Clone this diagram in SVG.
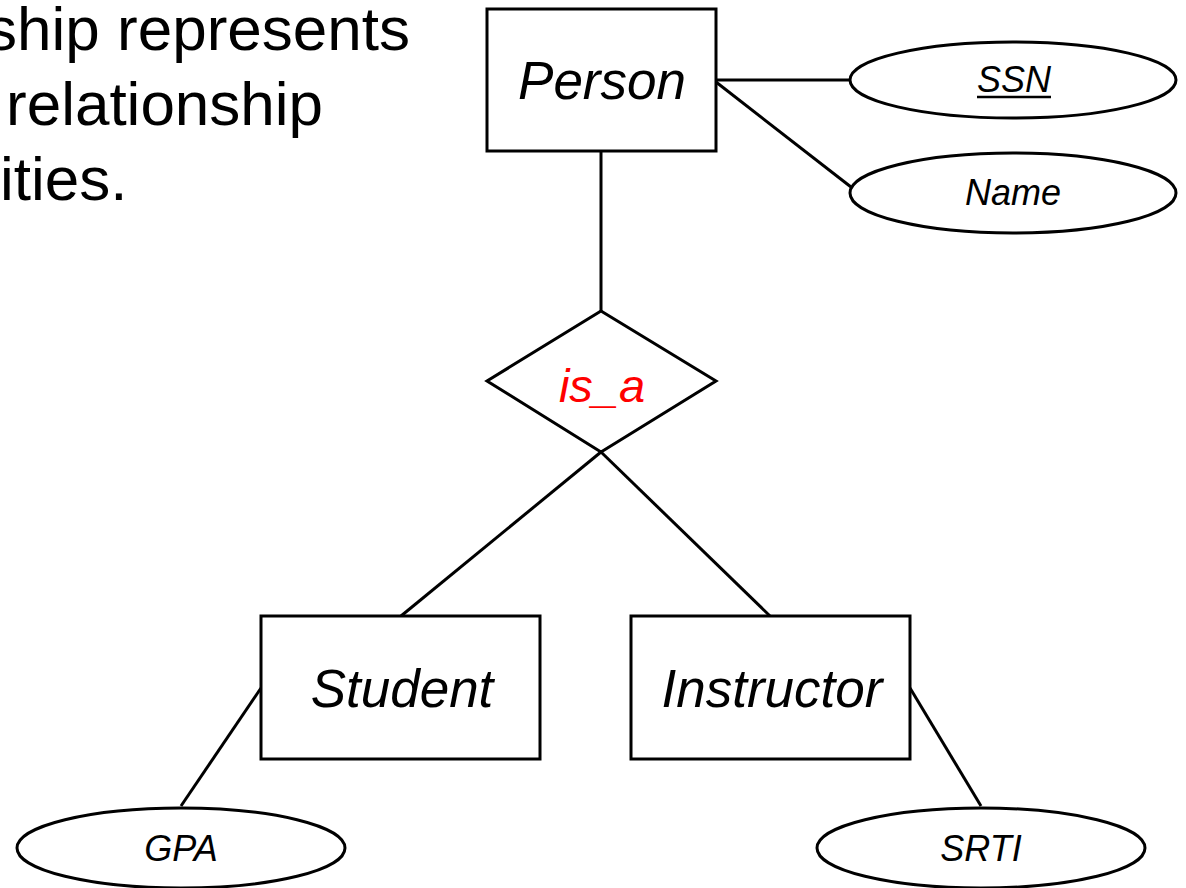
<svg xmlns="http://www.w3.org/2000/svg" width="1186" height="888" viewBox="0 0 1186 888">
<style>
.shape{fill:#fff;stroke:#000;stroke-width:3}
.conn line{stroke:#000;stroke-width:3}
.t{font-family:"Liberation Sans",Arial,sans-serif;font-style:italic;text-anchor:middle;fill:#000}
.big{font-size:53px}
.sm{font-size:36px}
.body{font-family:"Liberation Sans",Arial,sans-serif;font-size:62px;fill:#000}
</style>
<rect width="1186" height="888" fill="#fff"/>
<g id="caption">
<text class="body" x="410" y="50" text-anchor="end">ship represents</text>
<text class="body" x="6" y="125">relationship</text>
<text class="body" x="0" y="200">ities.</text>
</g>
<g class="conn" id="connectors">
<line x1="716" y1="80" x2="851" y2="80"/>
<line x1="716" y1="82" x2="851" y2="187"/>
<line x1="601" y1="151" x2="601" y2="311"/>
<line x1="601" y1="452" x2="401" y2="616"/>
<line x1="601" y1="452" x2="770" y2="616"/>
<line x1="261" y1="688" x2="181" y2="806"/>
<line x1="910" y1="688" x2="981" y2="806"/>
</g>
<g id="person">
<rect class="shape" x="487" y="9" width="229" height="142"/>
<text class="t big" x="602" y="99">Person</text>
</g>
<g id="ssn">
<ellipse class="shape" cx="1013" cy="80" rx="163" ry="38"/>
<text class="t sm" x="1014" y="92">SSN</text>
<line x1="977" y1="97" x2="1051" y2="97" stroke="#000" stroke-width="2.5"/>
</g>
<g id="name">
<ellipse class="shape" cx="1013" cy="193" rx="163" ry="40"/>
<text class="t sm" x="1013" y="205">Name</text>
</g>
<g id="is_a">
<polygon class="shape" points="601,311 716,381 601,452 487,381"/>
<text class="t" x="602" y="402" style="font-size:47px;fill:#ff0000">is_a</text>
</g>
<g id="student">
<rect class="shape" x="261" y="616" width="279" height="143"/>
<text class="t big" x="402" y="707">Student</text>
</g>
<g id="instructor">
<rect class="shape" x="631" y="616" width="279" height="143"/>
<text class="t big" x="772" y="707">Instructor</text>
</g>
<g id="gpa">
<ellipse class="shape" cx="181" cy="848" rx="164" ry="40"/>
<text class="t sm" x="181" y="861">GPA</text>
</g>
<g id="srti">
<ellipse class="shape" cx="981" cy="848" rx="164" ry="40"/>
<text class="t sm" x="981" y="861">SRTI</text>
</g>
</svg>
